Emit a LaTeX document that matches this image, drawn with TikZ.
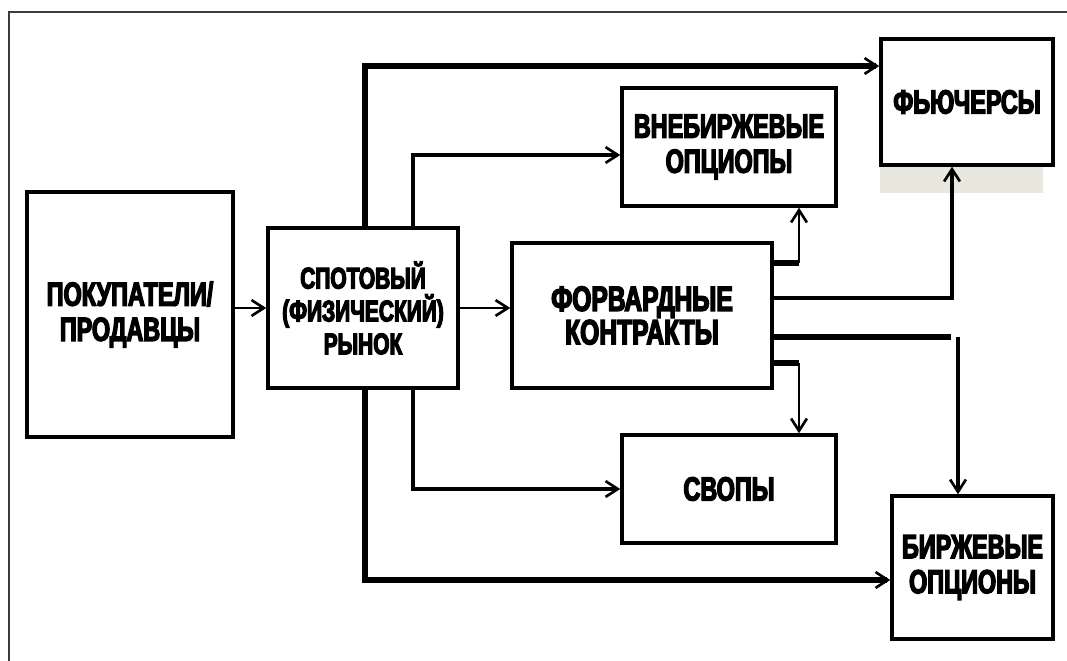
\documentclass[tikz,border=0pt]{standalone}
\usepackage{fontspec}
\usepackage{tikz}
\usetikzlibrary{positioning,arrows.meta,calc}
\newfontfamily\impactfont{Liberation Sans}[FakeStretch=0.7,BoldFeatures={FakeBold=4}]
\definecolor{mkFrame}{RGB}{60,60,60}
\definecolor{mkShade}{RGB}{232,232,222}

\begin{document}
\begin{tikzpicture}[x=0.02cm, y=-0.02cm,
    box/.style={draw, line width=2pt, align=center, inner sep=0pt,
      font=\impactfont\bfseries\fontsize{19}{20}\selectfont},
    trunk/.style={line width=3pt},
    branch/.style={line width=2pt},
    thinline/.style={line width=1.4pt},
    arr/.style={-{Straight Barb[length=7pt,width=9pt,line width=1.5pt]}}]
  \useasboundingbox (0,0) rectangle (1067,661);
  % frame
  \draw[mkFrame, line width=0.9pt] (9,12) rectangle (1090,690);

  % boxes
  \fill[mkShade] (880,165) rectangle (1043,193);
  \node[box, minimum width=4.12cm, minimum height=4.9cm] (buyers) at (130,314.5) {ПОКУПАТЕЛИ/\\ПРОДАВЦЫ};
  \node[box, minimum width=3.8cm, minimum height=3.2cm, font=\impactfont\bfseries\fontsize{17}{18.7}\selectfont] (spot) at (363,308) {СПОТОВЫЙ\\(ФИЗИЧЕСКИЙ)\\РЫНОК};
  \node[box, minimum width=5.2cm, minimum height=2.9cm, font=\impactfont\bfseries\fontsize{20}{19}\selectfont] (fwd) at (642,315.5) {ФОРВАРДНЫЕ\\КОНТРАКТЫ};
  \node[box, minimum width=4.28cm, minimum height=2.36cm] (otc) at (729,147) {ВНЕБИРЖЕВЫЕ\\ОПЦИОПЫ};
  \node[box, minimum width=3.44cm, minimum height=2.52cm] (fut) at (967,102) {ФЬЮЧЕРСЫ};
  \node[box, minimum width=4.28cm, minimum height=2.16cm] (swap) at (729,489) {СВОПЫ};
  \node[box, minimum width=3.22cm, minimum height=2.86cm] (exopt) at (972.5,567.5) {БИРЖЕВЫЕ\\ОПЦИОНЫ};

  % main chain
  \draw[thinline, arr] (buyers.east |- spot.west) -- (spot.west);
  \draw[thinline, arr] (spot.east) -- (spot.east -| fwd.west);

  % trunk from the spot market
  \coordinate (up) at (365,66);
  \coordinate (down) at (365,580);
  \draw[trunk, arr] (spot.north -| up) -- (up) -- (up -| fut.west);
  \draw[trunk, arr] (spot.south -| down) -- (down) -- (down -| exopt.west);

  % branches from the spot market
  \coordinate (bup) at (413,155);
  \draw[branch, arr] (spot.north -| bup) -- (bup) -- (bup -| otc.west);
  \draw[branch, arr] (spot.south -| bup) -- (bup |- swap.west) -- (swap.west);

  % outputs of the forward contracts
  \coordinate (f1) at (799,263);
  \coordinate (f2) at (952,298);
  \coordinate (f3) at (951,337);
  \coordinate (f4) at (958,337);
  \coordinate (f5) at (799,363);
  \draw[trunk] (f1 -| fwd.east) -- (f1);
  \draw[thinline, arr] (f1) -- (f1 |- otc.south);
  \draw[branch, arr] (f2 -| fwd.east) -- (f2) -- (f2 |- fut.south);
  \draw[trunk] (f3 -| fwd.east) -- (f3);
  \draw[branch, arr] (f4) -- (f4 |- exopt.north);
  \draw[trunk] (f5 -| fwd.east) -- (f5);
  \draw[thinline, arr] (f5) -- (f5 |- swap.north);
\end{tikzpicture}
\end{document}
